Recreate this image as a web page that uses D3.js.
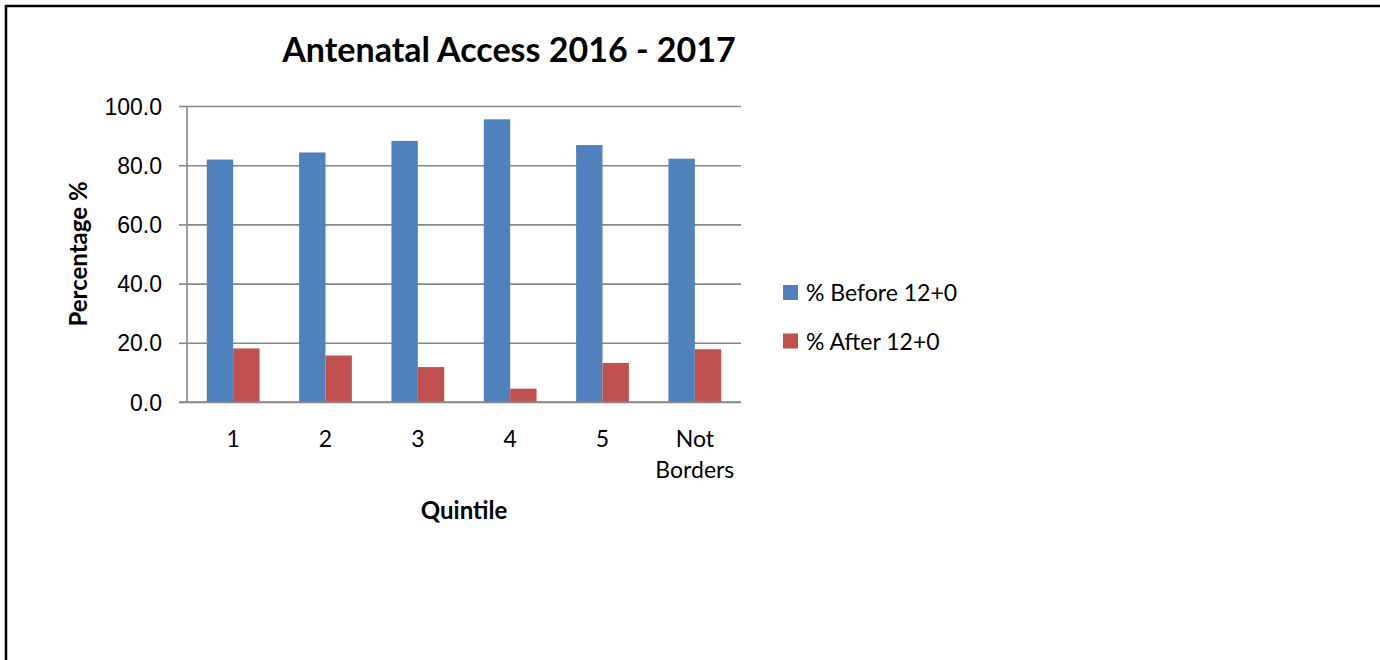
<!DOCTYPE html>
<html>
<head>
<meta charset="utf-8">
<script src="https://cdn.jsdelivr.net/npm/d3@7"></script>
<style>
  body { margin: 0; background: #fff; }
  svg { font-family: Lato, "Open Sans", sans-serif; }
</style>
</head>
<body>
<div id="chart"></div>
<script>
let quintiles = ["1", "2", "3", "4", "5", "Not Borders"];
let seriesNames = ["% Before 12+0", "% After 12+0"];
let before = [81.9, 84.3, 88.2, 95.5, 86.8, 82.2];
let after = [18.1, 15.7, 11.8, 4.5, 13.2, 17.8];
let yTicks = [0, 20, 40, 60, 80, 100];
let colors = ["#4F81BD", "#C0504D"];

let margin = {top: 106, left: 187};
let width = 554, height = 296;

let svg = d3.select("#chart")
    .append("svg")
    .attr("width", 1380)
    .attr("height", 660);

// outer frame of the chart object
svg.append("rect")
    .attr("x", 6).attr("y", 6)
    .attr("width", 1420).attr("height", 700)
    .attr("fill", "none")
    .attr("stroke", "#000")
    .attr("stroke-width", 2.5);

let g = svg.append("g")
    .attr("transform", "translate(" + margin.left + "," + margin.top + ")");

let xScale = d3.scaleBand()
    .domain(quintiles)
    .range([0, width])
    .paddingInner(1.5 / 3.5)
    .paddingOuter(0.75 / 3.5);

let xInner = d3.scaleBand()
    .domain(seriesNames)
    .range([0, xScale.bandwidth()]);

let yScale = d3.scaleLinear().domain([0, 100]).range([height, 0]);

// gridlines
g.append("g")
    .attr("class", "grid")
    .call(d3.axisLeft(yScale).tickValues(yTicks).tickSize(-width).tickFormat(""))
    .call(s => s.select(".domain").remove())
    .call(s => s.selectAll("line").attr("stroke", "#878787").attr("stroke-width", 1.6));

// y axis with outside tick marks
let yAxis = g.append("g")
    .attr("class", "y-axis")
    .call(d3.axisLeft(yScale).tickValues(yTicks).tickSize(8).tickPadding(17).tickFormat(d => d.toFixed(1)));
yAxis.select(".domain").attr("stroke", "#878787").attr("stroke-width", 1.6).attr("d", "M0," + height + "V0");
yAxis.selectAll("line").attr("stroke", "#878787").attr("stroke-width", 1.6);
yAxis.selectAll("text").style("font-size", "23px").attr("fill", "#000").attr("dy", "0.35em");

let rows = quintiles.map((q, i) => ({q: q, values: [before[i], after[i]]}));

let groups = g.selectAll(".cat")
    .data(rows)
    .enter()
    .append("g")
    .attr("class", "cat")
    .attr("transform", d => `translate(${xScale(d.q)},0)`);

groups.selectAll("rect")
    .data(d => d.values.map((v, j) => ({name: seriesNames[j], value: v, j: j})))
    .enter()
    .append("rect")
    .attr("x", d => xInner(d.name))
    .attr("y", d => yScale(d.value))
    .attr("width", xInner.bandwidth())
    .attr("height", d => height - yScale(d.value))
    .attr("fill", d => colors[d.j]);

// x axis baseline on top of bars
g.append("line")
    .attr("x1", -8).attr("x2", width)
    .attr("y1", height).attr("y2", height)
    .attr("stroke", "#878787").attr("stroke-width", 1.6);

// x labels
let xLabels = g.selectAll(".x-label")
    .data(quintiles)
    .enter()
    .append("text")
    .attr("class", "x-label")
    .attr("text-anchor", "middle")
    .attr("x", d => xScale(d) + xScale.bandwidth() / 2)
    .attr("y", height + 45)
    .style("font-size", "23px");
xLabels.each(function(d) {
    let words = d.split(" ");
    let t = d3.select(this);
    words.forEach((w, i) => {
        t.append("tspan")
            .attr("x", xScale(d) + xScale.bandwidth() / 2)
            .attr("dy", i === 0 ? 0 : 31)
            .text(w);
    });
});

// title
svg.append("text")
    .attr("x", 509).attr("y", 62)
    .attr("text-anchor", "middle")
    .style("font-size", "34px")
    .style("font-weight", "bold")
    .text("Antenatal Access 2016 - 2017");

// axis titles
svg.append("text")
    .attr("text-anchor", "middle")
    .attr("x", margin.left + width / 2)
    .attr("y", 519)
    .style("font-size", "24px")
    .style("font-weight", "bold")
    .text("Quintile");

svg.append("text")
    .attr("text-anchor", "middle")
    .attr("transform", "rotate(-90)")
    .attr("x", -(margin.top + height / 2))
    .attr("y", 87)
    .style("font-size", "24px")
    .style("font-weight", "bold")
    .text("Percentage %");

// legend
let legend = svg.append("g")
    .attr("transform", "translate(783,285)");
let items = legend.selectAll(".legend-item")
    .data(seriesNames)
    .enter()
    .append("g")
    .attr("class", "legend-item")
    .attr("transform", (d, i) => `translate(0, ${i * 48.5})`);
items.append("rect")
    .attr("width", 15).attr("height", 15)
    .attr("fill", (d, i) => colors[i]);
items.append("text")
    .attr("x", 23).attr("y", 16)
    .style("font-size", "23px")
    .text(d => d);
</script>
</body>
</html>
